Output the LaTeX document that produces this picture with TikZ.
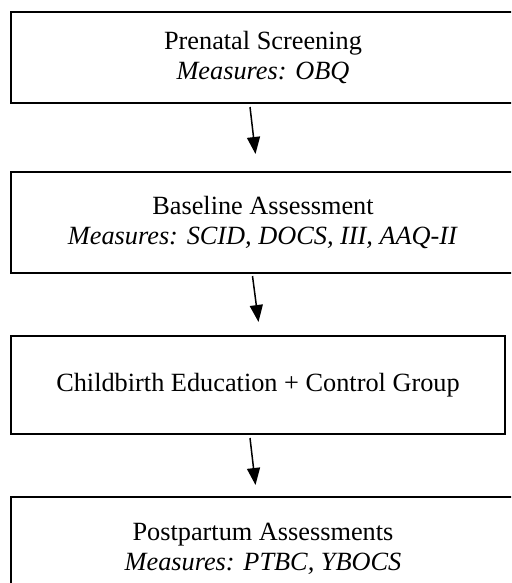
\documentclass[tikz,border=0pt]{standalone}
\usepackage{fontspec}
\setmainfont{Liberation Serif}
\usetikzlibrary{arrows.meta}
\begin{document}
\begin{tikzpicture}[x=1pt,y=-1pt,
  stagebox/.style={draw=black, line width=1.9pt, fill=white, align=center, inner sep=0pt,
    font=\fontsize{26.3}{30}\selectfont},
  flowarrow/.style={line width=1.5pt, -{Triangle[length=17pt,width=13pt]}}]
\clip (0,0) rectangle (511,583);
\fill[white] (0,0) rectangle (511,583);
\node[stagebox, minimum width=504pt, minimum height=91pt] (b1) at (263,57.5)
  {Prenatal Screening\\\textit{Measures: OBQ}};
\node[stagebox, minimum width=504pt, minimum height=101pt] (b2) at (263,222.5)
  {Baseline Assessment\\\textit{Measures: SCID, DOCS, III, AAQ-II}};
\node[stagebox, minimum width=494pt, minimum height=98pt] (b3) at (258,385)
  {Childbirth Education + Control Group};
\node[stagebox, minimum width=504pt, minimum height=104pt] (b4) at (263,549)
  {Postpartum Assessments\\\textit{Measures: PTBC, YBOCS}};
\coordinate (s1) at (250,107);
\coordinate (t1) at (255.5,154);
\coordinate (s2) at (252.5,276);
\coordinate (t2) at (258.5,322);
\coordinate (s3) at (250,438);
\coordinate (t3) at (255.5,485);
\draw[flowarrow] (s1) -- (t1);
\draw[flowarrow] (s2) -- (t2);
\draw[flowarrow] (s3) -- (t3);
\end{tikzpicture}
\end{document}
